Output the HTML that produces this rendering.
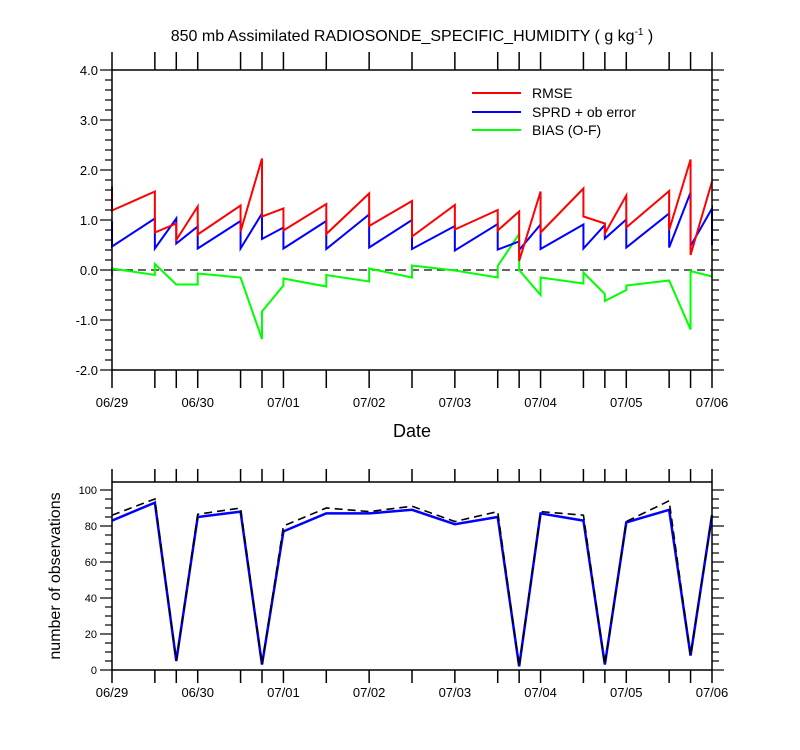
<!DOCTYPE html>
<html><head><meta charset="utf-8">
<style>
html,body{margin:0;padding:0;background:#fff;}
svg{display:block;font-family:"Liberation Sans",sans-serif;}
</style></head>
<body>
<svg id="chart" width="800" height="750" viewBox="0 0 800 750" xmlns="http://www.w3.org/2000/svg">
<text x="412" y="41" text-anchor="middle" font-size="16">850 mb Assimilated RADIOSONDE_SPECIFIC_HUMIDITY ( g kg<tspan dy="-6" font-size="10">-1</tspan><tspan dy="6"> )</tspan></text>
<text x="412" y="437" text-anchor="middle" font-size="18">Date</text>
<text transform="translate(60,576) rotate(-90)" text-anchor="middle" font-size="16">number of observations</text>
<g id="legend">
 <line x1="472" y1="93" x2="521" y2="93" stroke="#ff0000" stroke-width="2"/>
 <text x="532" y="98" font-size="14">RMSE</text>
 <line x1="472" y1="112" x2="521" y2="112" stroke="#0000ff" stroke-width="2"/>
 <text x="532" y="117" font-size="14">SPRD + ob error</text>
 <line x1="472" y1="130" x2="521" y2="130" stroke="#00ff00" stroke-width="2"/>
 <text x="532" y="135" font-size="14">BIAS (O-F)</text>
</g>
</svg>
<script>
// data (time in days since 06/29 00Z)
const times = [0,0.5,0.75,1,1.5,1.75,2,2.5,3,3.5,4,4.5,4.75,5,5.5,5.75,6,6.5,6.75,7];
const dateLabels = ["06/29","06/30","07/01","07/02","07/03","07/04","07/05","07/06"];
const rmsePre  = [1.67,1.57,0.93,1.27,1.29,2.23,1.23,1.32,1.53,1.38,1.30,1.20,1.17,1.57,1.63,0.93,1.49,1.58,2.21,1.77];
const rmsePost = [1.19,0.75,0.60,0.71,0.77,1.07,0.79,0.72,0.88,0.67,0.81,0.79,0.18,0.75,1.07,0.73,0.85,0.80,0.30,1.77];
const sprdPre  = [0.98,1.03,1.03,0.87,0.98,1.13,0.85,0.98,1.11,1.00,0.88,0.92,0.57,0.91,0.91,0.90,1.01,1.13,1.55,1.23];
const sprdPost = [0.47,0.43,0.53,0.43,0.43,0.62,0.43,0.42,0.45,0.42,0.39,0.41,0.40,0.42,0.43,0.63,0.45,0.45,0.48,0.50];
const biasPre  = [-0.13,-0.10,-0.29,-0.29,-0.15,-1.38,-0.31,-0.33,-0.23,-0.15,-0.01,-0.15,0.72,-0.50,-0.27,-0.48,-0.40,-0.21,-1.19,-0.13];
const biasPost = [0.03,0.12,-0.29,-0.07,-0.15,-0.83,-0.17,-0.10,0.03,0.09,-0.01,0.08,0.00,-0.15,-0.05,-0.62,-0.31,-0.21,-0.02,-0.13];
const obsUsed  = [83,93,5,85,88,3,77,87,87,89,81,85,2,87,83,3,82,89,8,86];
const obsTotal = [86,95,5,86.5,90,3,80,90,88,91,82.5,88,2,88,86,3,82.5,94,8,86];
const topTicks = [-2,-1,0,1,2,3,4];
const botTicks = [0,20,40,60,80,100];

const NS = "http://www.w3.org/2000/svg";
const svg = document.getElementById('chart');
const X0 = 112, X1 = 712;
const xs = t => X0 + t * (X1 - X0) / 7;
const yTop = v => 270 - v * 50;
const yBot = v => 670 - v * 1.8;

function mk(tag, attrs, parent) {
  const e = document.createElementNS(NS, tag);
  for (const k in attrs) e.setAttribute(k, attrs[k]);
  (parent || svg).appendChild(e);
  return e;
}

// ---------- top panel ----------
const gTop = mk('g', {});


// zero dashed line
const zl = mk('line', {x1:X0, x2:X1, y1:yTop(0), y2:yTop(0), stroke:'#333', 'stroke-width':1.6, 'stroke-dasharray':'8,5'}, gTop);


function stepLine(pre, post, color, name, g, ys) {
  let pts = [];
  for (let i = 0; i < times.length; i++) {
    pts.push(xs(times[i]) + ',' + ys(pre[i]));
    pts.push(xs(times[i]) + ',' + ys(post[i]));
  }
  const p = mk('polyline', {points: pts.join(' '), fill:'none', stroke:color, 'stroke-width':2, 'stroke-linejoin':'miter'}, g);
  
  
}
stepLine(biasPre, biasPost, '#00ff00', 'bias-line', gTop, yTop);
stepLine(sprdPre, sprdPost, '#0000ff', 'sprd-line', gTop, yTop);
stepLine(rmsePre, rmsePost, '#ff0000', 'rmse-line', gTop, yTop);
// frame
const f1 = mk('rect', {x:X0, y:70, width:X1-X0, height:300, fill:'none', stroke:'#000', 'stroke-width':1.5}, gTop);


// y ticks
for (let v = -2; v <= 4.001; v += 0.2) {
  const y = yTop(v);
  const major = Math.abs(v - Math.round(v)) < 1e-6;
  const L = major ? 12 : 7;
  mk('line', {x1:X0-L, x2:X0, y1:y, y2:y, stroke:'#000', 'stroke-width':1.2}, gTop);
  mk('line', {x1:X1, x2:X1+L, y1:y, y2:y, stroke:'#000', 'stroke-width':1.2}, gTop);
}
topTicks.forEach(v => {
  const t = mk('text', {x:98, y:yTop(v)+5, 'text-anchor':'end', 'font-size':13}, gTop);
  t.textContent = v.toFixed(1);
  
  
});
// x ticks
times.forEach(t => {
  const x = xs(t);
  mk('line', {x1:x, x2:x, y1:70, y2:52, stroke:'#000', 'stroke-width':1.5}, gTop);
  mk('line', {x1:x, x2:x, y1:370, y2:388, stroke:'#000', 'stroke-width':1.5}, gTop);
});
dateLabels.forEach((d, i) => {
  const t = mk('text', {x:xs(i), y:407, 'text-anchor':'middle', 'font-size':13}, gTop);
  t.textContent = d;
  
  
});

// ---------- bottom panel ----------
const gBot = mk('g', {});


function line(vals, color, name, dash, w) {
  const pts = times.map((t, i) => xs(t) + ',' + yBot(vals[i])).join(' ');
  const a = {points:pts, fill:'none', stroke:color, 'stroke-width':w};
  if (dash) a['stroke-dasharray'] = dash;
  const p = mk('polyline', a, gBot);
  
  
}
line(obsUsed, '#0000ff', 'obs-used-line', null, 2.5);
line(obsTotal, '#000', 'obs-total-line', '8,5', 1.6);
const f2 = mk('rect', {x:X0, y:482, width:X1-X0, height:188, fill:'none', stroke:'#000', 'stroke-width':1.5}, gBot);


for (let v = 0; v <= 100; v += 5) {
  const y = yBot(v);
  const major = v % 20 === 0;
  const L = major ? 12 : 7;
  mk('line', {x1:X0-L, x2:X0, y1:y, y2:y, stroke:'#000', 'stroke-width':1.2}, gBot);
  mk('line', {x1:X1, x2:X1+L, y1:y, y2:y, stroke:'#000', 'stroke-width':1.2}, gBot);
}
botTicks.forEach(v => {
  const t = mk('text', {x:97, y:yBot(v)+4, 'text-anchor':'end', 'font-size':11}, gBot);
  t.textContent = v;
  
  
});
times.forEach(t => {
  const x = xs(t);
  mk('line', {x1:x, x2:x, y1:482, y2:469, stroke:'#000', 'stroke-width':1.5}, gBot);
  mk('line', {x1:x, x2:x, y1:670, y2:683, stroke:'#000', 'stroke-width':1.5}, gBot);
});
dateLabels.forEach((d, i) => {
  const t = mk('text', {x:xs(i), y:697, 'text-anchor':'middle', 'font-size':13}, gBot);
  t.textContent = d;
  
  
});
</script>
</body></html>
